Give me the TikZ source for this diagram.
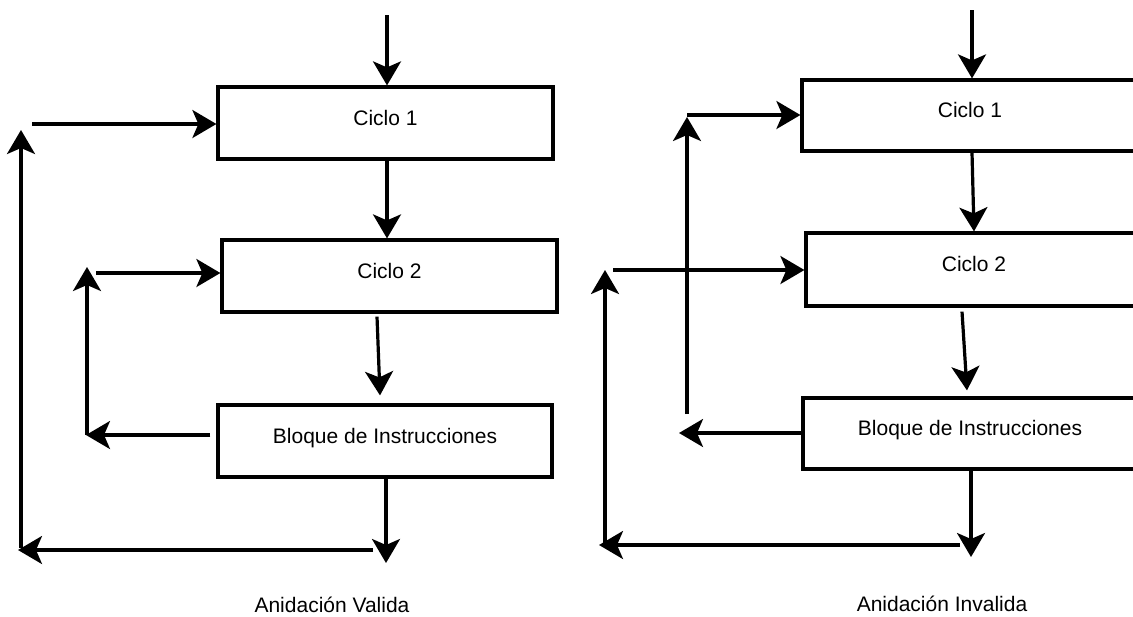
\documentclass[tikz,border=0pt]{standalone}
\usepackage{fontspec}
\setmainfont{Liberation Sans}
\usetikzlibrary{arrows.meta}
\begin{document}
\begin{tikzpicture}[x=0.5pt,y=-0.5pt,
  box/.style={draw, line width=1.6pt, rectangle, inner sep=0pt,
    minimum height=36pt, text height=7.5pt, text depth=5.5pt,
    font=\fontsize{10.5}{12}\selectfont},
  arr/.style={line width=1.6pt, -{Stealth[length=12pt,width=14pt,inset=3pt]}},
  lbl/.style={font=\fontsize{10.5}{12}\selectfont, inner sep=0pt, anchor=base}]
\path[use as bounding box, clip] (0,0) rectangle (1133,616);

% ---------- left diagram ----------
\node[box, minimum width=167.5pt] (c1L) at (385.5,123) {Ciclo 1};
\node[box, minimum width=167.5pt] (c2L) at (389.5,276) {Ciclo 2};
\node[box, minimum width=167pt] (bL) at (385,441) {Bloque de Instrucciones};

\coordinate (inL) at (387,15);
\draw[arr] (inL) -- (inL |- c1L.north);
\draw[arr] (c1L.south -| inL) -- (c2L.north -| inL);
\draw[arr] ([shift={(-12.5,3)}]c2L.south) -- ([shift={(-5,-8)}]bL.north);
\coordinate (dnL) at (386,563);
\draw[arr] (bL.south -| dnL) -- (dnL);
\coordinate (bsL) at (373,550);
\coordinate (beL) at (18,550);
\draw[arr] (bsL) -- (beL);
\coordinate (ovL) at (21,548);
\coordinate (otL) at (21,130);
\draw[arr] (ovL) -- (otL);
\coordinate (ohL) at (32,124);
\draw[arr] (ohL) -- (ohL -| c1L.west);
\coordinate (ivL) at (87,435);
\coordinate (itL) at (87,267);
\draw[arr] (ivL) -- (itL);
\coordinate (ihL) at (96,273);
\draw[arr] (ihL) -- (ihL -| c2L.west);
\coordinate (blL) at (86,435);
\draw[arr, shorten <=3pt] (bL.west |- blL) -- (blL);

\node[lbl] (lblL) at (332,612) {Anidación Valida};

% ---------- right diagram ----------
\node[box, minimum width=168pt, minimum height=35.5pt] (c1R) at (970,115.5) {Ciclo 1};
\node[box, minimum width=168pt, minimum height=36.5pt] (c2R) at (974,269.5) {Ciclo 2};
\node[box, minimum width=167pt, minimum height=35.5pt] (bR) at (970,433.5) {Bloque de Instrucciones};

\coordinate (inR) at (972,10);
\draw[arr] (inR) -- (inR |- c1R.north);
\draw[arr] (c1R.south -| inR) -- (c2R.north);
\draw[arr] ([shift={(-12,4)}]c2R.south) -- ([shift={(-3,-6)}]bR.north);
\coordinate (dnR) at (971,557);
\draw[arr] (bR.south -| dnR) -- (dnR);
\coordinate (bsR) at (960,545);
\coordinate (beR) at (599,545);
\draw[arr] (bsR) -- (beR);
\coordinate (ovR) at (605,543);
\coordinate (otR) at (605,270);
\draw[arr] (ovR) -- (otR);
\coordinate (ohR) at (613,270);
\draw[arr] (ohR) -- (ohR -| c2R.west);
\coordinate (ivR) at (687,414);
\coordinate (itR) at (687,117);
\draw[arr] (ivR) -- (itR);
\coordinate (ihR) at (687,115);
\draw[arr] (ihR) -- (ihR -| c1R.west);
\coordinate (blR) at (679,433);
\draw[arr] (bR.west |- blR) -- (blR);

\node[lbl] (lblR) at (942,611) {Anidación Invalida};
\end{tikzpicture}
\end{document}
